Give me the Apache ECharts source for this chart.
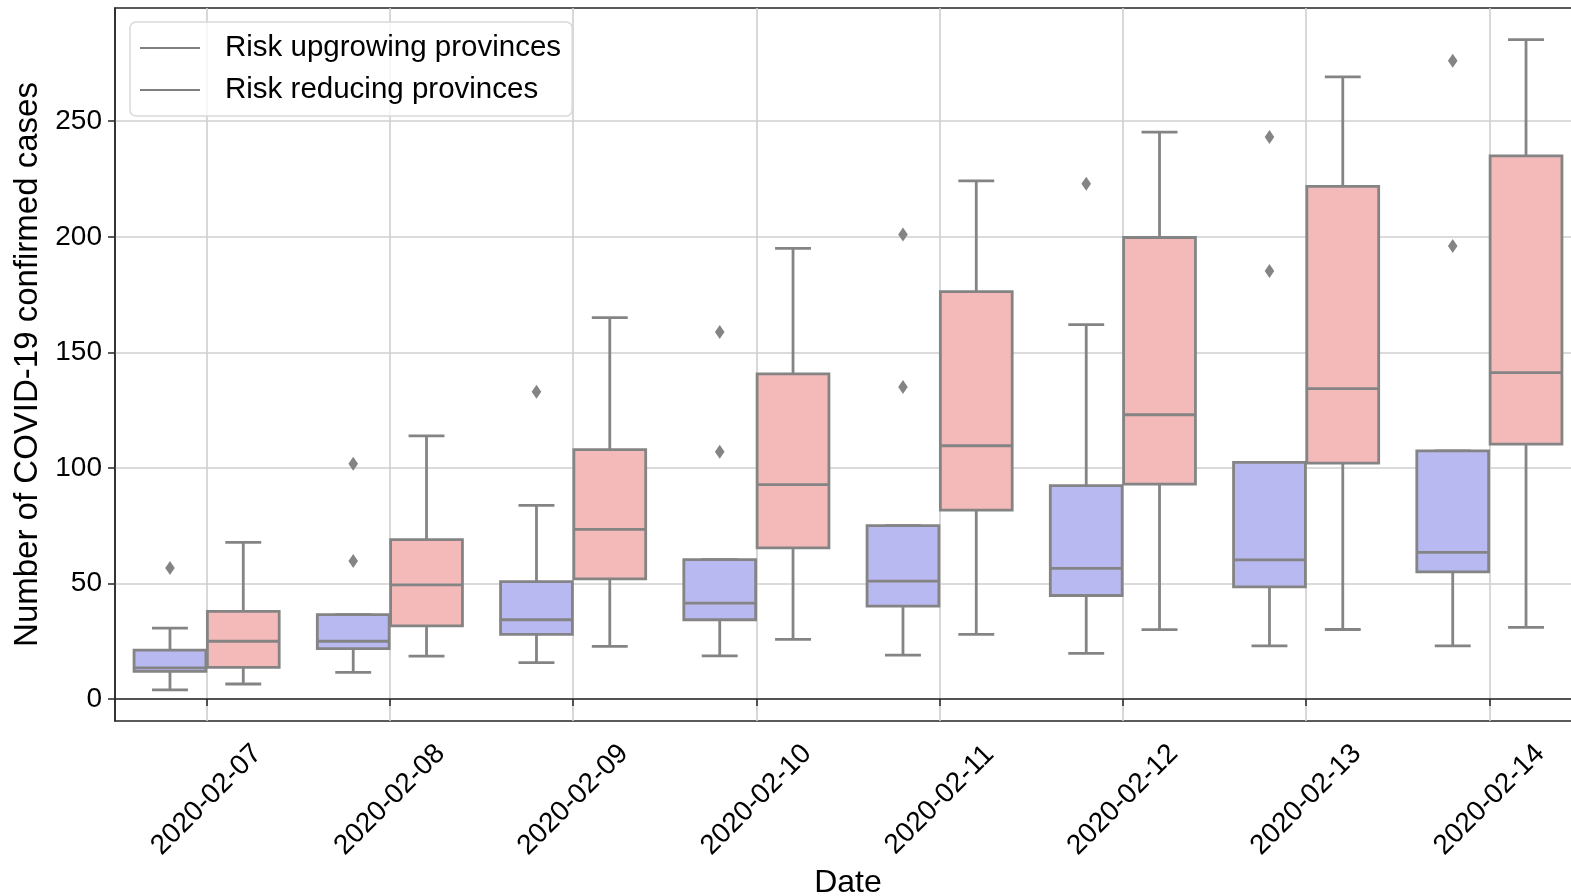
<!DOCTYPE html>
<html>
<head>
<meta charset="utf-8">
<script src="https://cdn.jsdelivr.net/npm/echarts@6/dist/echarts.min.js"></script>
<style>
  html, body { margin: 0; padding: 0; background: #fff; }
  #chart { width: 1571px; height: 896px; }
</style>
</head>
<body>
<div id="chart"></div>
<script>
const dates = ['2020-02-07', '2020-02-08', '2020-02-09', '2020-02-10', '2020-02-11', '2020-02-12', '2020-02-13', '2020-02-14']

// each row: [whisker low, Q1, median, Q3, whisker high]
const upgrowingBoxes = [
  [4, 12, 13.5, 21.2, 30.7],
  [11.5, 21.8, 25, 36.5, 36.5],
  [15.8, 28, 34.3, 50.8, 83.8],
  [18.7, 34.3, 41.5, 60.3, 60.3],
  [19, 40.2, 51, 75, 75],
  [19.8, 44.8, 56.5, 92.3, 162],
  [23, 48.5, 60.2, 102.4, 102.4],
  [23, 55, 63.5, 107.4, 107.4]
]
const reducingBoxes = [
  [6.5, 13.7, 25, 37.9, 67.8],
  [18.6, 31.7, 49.4, 69, 113.9],
  [22.8, 52, 73.4, 107.9, 165],
  [25.8, 65.4, 92.8, 140.7, 195],
  [28, 81.7, 109.6, 176.3, 224.2],
  [30, 93, 123, 199.7, 245.3],
  [30.1, 102.1, 134.3, 221.8, 269.2],
  [31, 110.3, 141.2, 235, 285.3]
]
// [date index, value]
const upgrowingOutliers = [
  [0, 56.7], [1, 59.7], [1, 101.8], [2, 133], [3, 107], [3, 158.8],
  [4, 135], [4, 201], [5, 223], [6, 185.2], [6, 243.2], [7, 196], [7, 276.2]
]
const reducingOutliers = []

const yTicks = [0, 50, 100, 150, 200, 250]

const edgeColor = '#848484'
const upColor = '#b9b9f2'
const downColor = '#f4baba'
const font = 'Liberation Sans, Arial, sans-serif'

function boxRenderer (shift, fill) {
  return function (params, api) {
    const i = api.value(0)
    const band = api.size([1, 0])[0]
    const cx = api.coord([i, 0])[0] + shift * band
    const half = band * 0.196
    const cap = half / 2
    const y = [1, 2, 3, 4, 5].map((k) => api.coord([i, api.value(k)])[1])
    const line = { stroke: edgeColor, lineWidth: 2.8 }
    return {
      type: 'group',
      children: [
        { type: 'line', shape: { x1: cx, y1: y[0], x2: cx, y2: y[1] }, style: line },
        { type: 'line', shape: { x1: cx, y1: y[3], x2: cx, y2: y[4] }, style: line },
        { type: 'line', shape: { x1: cx - cap, y1: y[0], x2: cx + cap, y2: y[0] }, style: line },
        { type: 'line', shape: { x1: cx - cap, y1: y[4], x2: cx + cap, y2: y[4] }, style: line },
        {
          type: 'rect',
          shape: { x: cx - half, y: y[3], width: half * 2, height: y[1] - y[3] },
          style: { fill: fill, stroke: edgeColor, lineWidth: 2.8 }
        },
        { type: 'line', shape: { x1: cx - half, y1: y[2], x2: cx + half, y2: y[2] }, style: line }
      ]
    }
  }
}

function outlierRenderer (shift) {
  return function (params, api) {
    const band = api.size([1, 0])[0]
    const p = api.coord([api.value(0), api.value(1)])
    const cx = p[0] + shift * band
    const w = 4.8
    const h = 7
    return {
      type: 'polygon',
      shape: { points: [[cx, p[1] - h], [cx + w, p[1]], [cx, p[1] + h], [cx - w, p[1]]] },
      style: { fill: edgeColor }
    }
  }
}

const chart = echarts.init(document.getElementById('chart'))

chart.setOption({
  animation: false,
  textStyle: { fontFamily: font },
  grid: {
    left: 115,
    top: 8,
    width: 1466,
    height: 713,
    show: true,
    borderColor: '#262626',
    borderWidth: 1.5,
    backgroundColor: '#fff',
    outerBoundsMode: 'none'
  },
  legend: {
    left: 130,
    top: 22,
    orient: 'vertical',
    itemWidth: 60,
    itemHeight: 2,
    itemGap: 10,
    padding: [10, 11, 10, 10],
    backgroundColor: 'rgba(255,255,255,0.8)',
    borderColor: '#d9d9d9',
    borderWidth: 1.5,
    borderRadius: 6,
    textStyle: { fontSize: 29.5, color: '#000', lineHeight: 32, padding: [0, 0, 0, 20], fontFamily: font },
    data: [
      { name: 'Risk upgrowing provinces', icon: 'rect', itemStyle: { color: '#808080' } },
      { name: 'Risk reducing provinces', icon: 'rect', itemStyle: { color: '#808080' } }
    ]
  },
  xAxis: {
    type: 'category',
    data: dates,
    boundaryGap: true,
    name: 'Date',
    nameLocation: 'middle',
    nameGap: 136,
    nameTextStyle: { fontSize: 32, color: '#000', fontFamily: font, verticalAlign: 'top' },
    axisLine: { show: true, lineStyle: { color: '#262626', width: 1.5 } },
    axisTick: { show: true, alignWithLabel: true, length: 7, lineStyle: { color: '#262626', width: 1.5 } },
    axisLabel: {
      interval: 0,
      rotate: 45,
      align: 'center',
      verticalAlign: 'middle',
      margin: 79,
      fontSize: 28,
      color: '#000',
      fontFamily: font
    },
    splitLine: { show: true, alignWithLabel: true, lineStyle: { color: '#cfcfcf', width: 1.6 } }
  },
  yAxis: {
    type: 'value',
    min: -9.5,
    max: 299,
    name: 'Number of COVID-19 confirmed cases',
    nameLocation: 'middle',
    nameGap: 64,
    nameTextStyle: { fontSize: 33, color: '#000', fontFamily: font },
    axisLine: { show: true, lineStyle: { color: '#262626', width: 1.5 } },
    axisTick: { show: true, length: 7, customValues: yTicks, lineStyle: { color: '#262626', width: 1.5 } },
    axisLabel: { customValues: yTicks, margin: 13, fontSize: 28, color: '#000', fontFamily: font },
    splitLine: { show: true, lineStyle: { color: '#cfcfcf', width: 1.6 } }
  },
  series: [
    {
      name: 'Risk upgrowing provinces',
      type: 'custom',
      renderItem: boxRenderer(-0.2, upColor),
      encode: { x: 0, y: [1, 2, 3, 4, 5] },
      data: upgrowingBoxes.map((b, i) => [i].concat(b))
    },
    {
      name: 'Risk reducing provinces',
      type: 'custom',
      renderItem: boxRenderer(0.2, downColor),
      encode: { x: 0, y: [1, 2, 3, 4, 5] },
      data: reducingBoxes.map((b, i) => [i].concat(b))
    },
    {
      name: 'upgrowing outliers',
      type: 'custom',
      renderItem: outlierRenderer(-0.2),
      encode: { x: 0, y: 1 },
      data: upgrowingOutliers
    },
    {
      name: 'reducing outliers',
      type: 'custom',
      renderItem: outlierRenderer(0.2),
      encode: { x: 0, y: 1 },
      data: reducingOutliers
    }
  ]
})
</script>
</body>
</html>
